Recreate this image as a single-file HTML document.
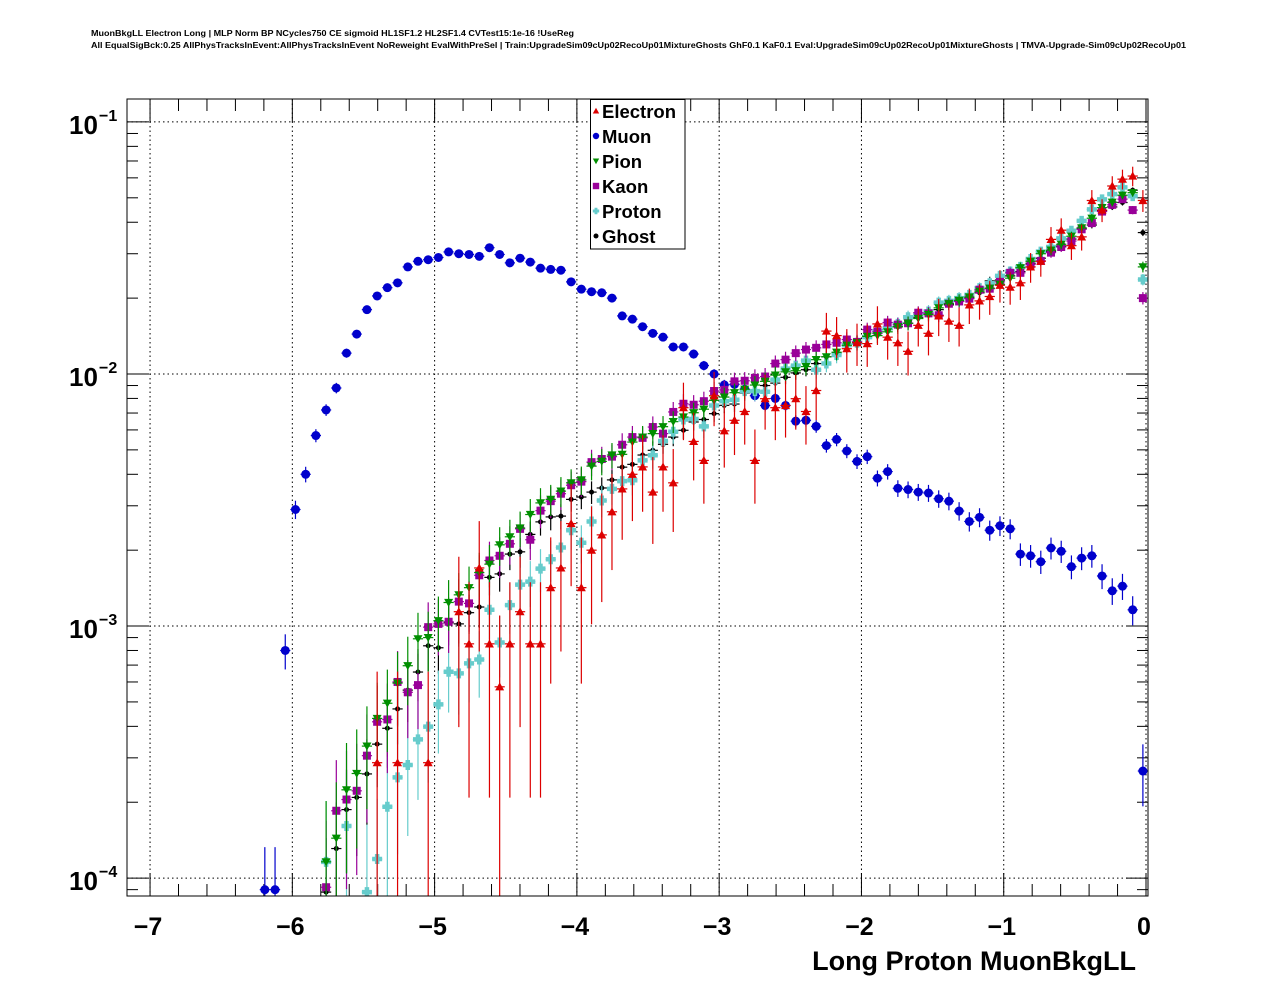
<!DOCTYPE html>
<html><head><meta charset="utf-8">
<style>
html,body{margin:0;padding:0;background:#fff;}
svg{display:block;font-family:"Liberation Sans",Arial,sans-serif;}
</style></head>
<body>
<svg id="chart" width="1276" height="996" viewBox="0 0 1276 996" xmlns="http://www.w3.org/2000/svg">
<rect x="0" y="0" width="1276" height="996" fill="#fff"/>
<text x="91" y="36" font-size="8.6" font-weight="bold" textLength="483" lengthAdjust="spacingAndGlyphs">MuonBkgLL Electron Long | MLP Norm BP NCycles750 CE sigmoid HL1SF1.2 HL2SF1.4 CVTest15:1e-16 !UseReg</text>
<text x="91" y="48" font-size="8.6" font-weight="bold" textLength="1095" lengthAdjust="spacingAndGlyphs">All EqualSigBck:0.25 AllPhysTracksInEvent:AllPhysTracksInEvent NoReweight EvalWithPreSel | Train:UpgradeSim09cUp02RecoUp01MixtureGhosts GhF0.1 KaF0.1 Eval:UpgradeSim09cUp02RecoUp01MixtureGhosts | TMVA-Upgrade-Sim09cUp02RecoUp01</text>
<defs><clipPath id="plotclip"><rect x="127" y="99" width="1021" height="797"/></clipPath></defs>
<g id="grid"></g>
<g id="axes"></g>
<g id="series" clip-path="url(#plotclip)"></g>
<rect x="127" y="99" width="1021" height="797" fill="none" stroke="#000" stroke-width="1"/>
<g id="legend"></g>
<text x="1136" y="970" font-size="27" font-weight="bold" text-anchor="end">Long Proton MuonBkgLL</text>
</svg>
<script>
const NBINS = 100;
const XMIN = -7.162, XMAX = 0.014;
const YLOGMIN = -4.071, YLOGMAX = -0.909;
const xTickValues = [-7, -6, -5, -4, -3, -2, -1, 0];
const xTickLabels = ["\u22127", "\u22126", "\u22125", "\u22124", "\u22123", "\u22122", "\u22121", "0"];
const yDecades = [-4, -3, -2, -1];
const yTickLabels = ["\u22124", "\u22123", "\u22122", "\u22121"];
const seriesNames = ["Electron", "Muon", "Pion", "Kaon", "Proton", "Ghost"];

const muonStart = 13;
const muon = [9.0e-5,9.0e-5,8.0e-4,2.9e-3,4.0e-3,5.7e-3,7.2e-3,8.8e-3,1.21e-2,1.44e-2,1.8e-2,2.04e-2,2.2e-2,2.3e-2,2.66e-2,2.8e-2,2.84e-2,2.9e-2,3.05e-2,3.0e-2,2.98e-2,2.93e-2,3.17e-2,2.98e-2,2.76e-2,2.88e-2,2.78e-2,2.63e-2,2.6e-2,2.58e-2,2.32e-2,2.17e-2,2.12e-2,2.1e-2,2.0e-2,1.7e-2,1.65e-2,1.54e-2,1.45e-2,1.4e-2,1.28e-2,1.28e-2,1.2e-2,1.08e-2,1.0e-2,9.05e-3,9.1e-3,8.7e-3,8.2e-3,7.5e-3,8.0e-3,7.5e-3,6.5e-3,6.55e-3,6.2e-3,5.2e-3,5.5e-3,4.95e-3,4.5e-3,4.7e-3,3.86e-3,4.1e-3,3.52e-3,3.48e-3,3.4e-3,3.37e-3,3.2e-3,3.13e-3,2.86e-3,2.6e-3,2.7e-3,2.4e-3,2.5e-3,2.43e-3,1.93e-3,1.9e-3,1.8e-3,2.04e-3,1.98e-3,1.72e-3,1.86e-3,1.9e-3,1.58e-3,1.38e-3,1.44e-3,1.16e-3,2.66e-4];

const kaonStart = 19;
const kaon = [9.2e-5,1.85e-4,2.05e-4,2.22e-4,3.06e-4,4.17e-4,4.26e-4,6.0e-4,5.46e-4,5.83e-4,9.9e-4,1.02e-3,1.04e-3,1.25e-3,1.23e-3,1.59e-3,1.82e-3,1.9e-3,2.12e-3,2.43e-3,2.2e-3,2.87e-3,3.13e-3,3.35e-3,3.62e-3,3.74e-3,4.47e-3,4.6e-3,4.7e-3,5.24e-3,5.62e-3,5.58e-3,6.16e-3,5.8e-3,7.07e-3,7.62e-3,7.55e-3,7.8e-3,8.56e-3,8.65e-3,9.35e-3,9.4e-3,9.65e-3,9.77e-3,1.1e-2,1.14e-2,1.21e-2,1.25e-2,1.27e-2,1.31e-2,1.33e-2,1.37e-2,1.34e-2,1.5e-2,1.47e-2,1.6e-2,1.57e-2,1.59e-2,1.75e-2,1.74e-2,1.71e-2,1.9e-2,1.94e-2,1.99e-2,2.16e-2,2.18e-2,2.32e-2,2.52e-2,2.52e-2,2.72e-2,2.81e-2,3.03e-2,3.19e-2,3.37e-2,3.75e-2,3.97e-2,4.41e-2,4.69e-2,4.94e-2,4.47e-2,2.0e-2];

const pionStart = 19;
const pion = [1.16e-4,1.44e-4,2.24e-4,2.6e-4,3.34e-4,4.3e-4,4.94e-4,5.94e-4,6.96e-4,8.9e-4,9.0e-4,1.05e-3,1.24e-3,1.33e-3,1.42e-3,1.63e-3,1.76e-3,2.1e-3,2.26e-3,2.45e-3,2.77e-3,3.08e-3,3.18e-3,3.43e-3,3.7e-3,3.8e-3,4.31e-3,4.5e-3,4.77e-3,4.8e-3,5.37e-3,5.62e-3,5.8e-3,6.18e-3,6.47e-3,6.75e-3,7.02e-3,7.25e-3,7.86e-3,8.1e-3,8.43e-3,8.7e-3,9.04e-3,9.35e-3,9.9e-3,1.02e-2,1.03e-2,1.07e-2,1.14e-2,1.17e-2,1.22e-2,1.3e-2,1.33e-2,1.41e-2,1.42e-2,1.47e-2,1.54e-2,1.59e-2,1.66e-2,1.72e-2,1.83e-2,1.9e-2,1.96e-2,2.02e-2,2.13e-2,2.19e-2,2.27e-2,2.4e-2,2.64e-2,2.8e-2,3.0e-2,3.1e-2,3.27e-2,3.52e-2,3.8e-2,4.15e-2,4.57e-2,4.8e-2,5.12e-2,5.24e-2,2.66e-2];

const ghostStart = 19;
const ghost = [8.8e-5,1.31e-4,1.87e-4,2.09e-4,2.59e-4,3.4e-4,3.93e-4,4.69e-4,5.57e-4,6.57e-4,8.35e-4,8.2e-4,1.03e-3,1.02e-3,1.13e-3,1.19e-3,1.56e-3,1.61e-3,1.93e-3,1.97e-3,2.31e-3,2.59e-3,2.71e-3,2.73e-3,3.18e-3,3.25e-3,3.4e-3,3.53e-3,3.8e-3,4.27e-3,4.38e-3,4.77e-3,4.98e-3,5.26e-3,5.62e-3,5.98e-3,6.45e-3,6.6e-3,6.96e-3,7.51e-3,7.6e-3,8.4e-3,8.6e-3,9.0e-3,9.2e-3,9.7e-3,1.01e-2,1.04e-2,1.1e-2,1.17e-2,1.21e-2,1.3e-2,1.35e-2,1.42e-2,1.45e-2,1.5e-2,1.54e-2,1.59e-2,1.68e-2,1.75e-2,1.8e-2,1.88e-2,1.94e-2,2.0e-2,2.1e-2,2.34e-2,2.36e-2,2.45e-2,2.55e-2,2.75e-2,2.88e-2,3.07e-2,3.22e-2,3.43e-2,3.78e-2,3.9e-2,4.45e-2,4.6e-2,4.79e-2,5.36e-2,3.64e-2];

const protonStart = 19;
const proton = [1.16e-4,null,1.61e-4,null,8.8e-5,1.19e-4,1.92e-4,2.51e-4,2.81e-4,3.55e-4,3.99e-4,4.89e-4,6.59e-4,6.49e-4,7.11e-4,7.37e-4,1.16e-3,8.6e-4,1.21e-3,1.46e-3,1.5e-3,1.69e-3,1.84e-3,2.05e-3,2.4e-3,2.14e-3,2.6e-3,3.15e-3,3.5e-3,3.76e-3,3.79e-3,4.54e-3,4.76e-3,5.42e-3,5.9e-3,6.6e-3,6.63e-3,6.2e-3,7.5e-3,7.8e-3,7.9e-3,8.55e-3,8.55e-3,8.5e-3,9.5e-3,1.05e-2,1.08e-2,1.13e-2,1.04e-2,1.1e-2,1.19e-2,1.3e-2,1.33e-2,1.4e-2,1.48e-2,1.52e-2,1.58e-2,1.68e-2,1.72e-2,1.77e-2,1.92e-2,1.95e-2,2.0e-2,2.06e-2,2.19e-2,2.29e-2,2.45e-2,2.55e-2,2.66e-2,2.86e-2,3.06e-2,3.19e-2,3.45e-2,3.7e-2,4.05e-2,4.5e-2,4.93e-2,5.17e-2,5.5e-2,5.08e-2,2.37e-2];

const electronStart = 24;
const electron = [2.87e-4,null,2.87e-4,null,null,2.87e-4,null,null,1.14e-3,8.5e-4,1.7e-3,8.5e-4,5.74e-4,8.5e-4,1.14e-3,8.5e-4,8.5e-4,1.42e-3,1.7e-3,2.55e-3,1.42e-3,2.0e-3,2.3e-3,2.84e-3,3.5e-3,4.0e-3,4.28e-3,3.4e-3,4.28e-3,3.7e-3,7.35e-3,5.4e-3,4.54e-3,8.2e-3,5.95e-3,6.55e-3,7.1e-3,4.54e-3,7.98e-3,7.35e-3,7.5e-3,7.98e-3,7.1e-3,8.6e-3,1.48e-2,1.42e-2,1.26e-2,1.33e-2,1.32e-2,1.58e-2,1.4e-2,1.33e-2,1.23e-2,1.56e-2,1.45e-2,1.7e-2,1.62e-2,1.56e-2,1.88e-2,1.95e-2,2.03e-2,2.25e-2,2.21e-2,2.3e-2,2.66e-2,2.8e-2,3.42e-2,3.72e-2,3.23e-2,3.5e-2,4.88e-2,4.47e-2,5.57e-2,5.93e-2,6.1e-2,4.88e-2];

const NS = "http://www.w3.org/2000/svg";
const L = 127, R = 1148, T = 99, B = 896;
function xPx(x){ return L + (x - XMIN) / (XMAX - XMIN) * (R - L); }
function yPxLog(lg){ return B - (lg - YLOGMIN) / (YLOGMAX - YLOGMIN) * (B - T); }
function yPx(v){ return v > 0 ? yPxLog(Math.log10(v)) : B + 50; }
function binCenter(i){ return XMIN + (i + 0.5) * (XMAX - XMIN) / NBINS; }
function mk(tag, attrs, parent){
  const e = document.createElementNS(NS, tag);
  for (const k in attrs) e.setAttribute(k, attrs[k]);
  parent.appendChild(e);
  return e;
}
const grid = document.getElementById('grid');
const axes = document.getElementById('axes');
const seriesG = document.getElementById('series');
const legend = document.getElementById('legend');

xTickValues.forEach(v => {
  const x = xPx(v);
  if (x > L + 1 && x < R - 1) {
    const g = mk('line', {x1:x, y1:T, x2:x, y2:B, stroke:'#000', 'stroke-width':1, 'stroke-dasharray':'1.5,3'}, grid);
    
    
  }
});
yDecades.forEach(d => {
  const y = yPxLog(d);
  const g = mk('line', {x1:L, y1:y, x2:R, y2:y, stroke:'#000', 'stroke-width':1, 'stroke-dasharray':'1.5,3'}, grid);
  
  
});

for (let k = -36; k <= 0; k++) {
  const v = k * 0.2;
  const x = xPx(v);
  if (x < L || x > R) continue;
  const major = (k % 5 === 0);
  const len = major ? 23 : 12;
  const t1 = mk('line', {x1:x, y1:B, x2:x, y2:B - len, stroke:'#000', 'stroke-width':1}, axes);
  
  
  const t2 = mk('line', {x1:x, y1:T, x2:x, y2:T + len, stroke:'#000', 'stroke-width':1}, axes);
  
  
}
xTickValues.forEach((v, i) => {
  const t = mk('text', {x:xPx(v) - 2, y:935, 'font-size':25, 'font-weight':'bold', 'text-anchor':'middle'}, axes);
  t.textContent = xTickLabels[i];
  
  
});

for (let d = -5; d <= -1; d++) {
  for (let m = 1; m <= 9; m++) {
    const lg = d + Math.log10(m);
    if (lg < YLOGMIN || lg > YLOGMAX) continue;
    const y = yPxLog(lg);
    const len = m === 1 ? 22 : 11;
    const a = mk('line', {x1:L, y1:y, x2:L + len, y2:y, stroke:'#000', 'stroke-width':1}, axes);
    
    
    const b = mk('line', {x1:R, y1:y, x2:R - len, y2:y, stroke:'#000', 'stroke-width':1}, axes);
    
    
  }
}
yDecades.forEach((d, i) => {
  const y = yPxLog(d);
  const t = mk('text', {x:69, y:y + 12, 'font-size':26, 'font-weight':'bold'}, axes);
  t.textContent = '10';
  
  
  const s = mk('text', {x:99, y:y - 1, 'font-size':16, 'font-weight':'bold'}, axes);
  s.textContent = yTickLabels[i];
  
  
});

const styles = {
  Electron:{color:'#dd0000', k:0.022, shape:'tri-up', size:4.5},
  Muon:{color:'#0000cc', k:0.0045, shape:'circle', size:4.5},
  Pion:{color:'#008f00', k:0.008, shape:'tri-down', size:4.5},
  Kaon:{color:'#990099', k:0.008, shape:'square', size:4},
  Proton:{color:'#66cccc', k:0.008, shape:'cross', size:5},
  Ghost:{color:'#000000', k:0.006, shape:'dot', size:2.5}
};
function marker(parent, shape, cx, cy, s, color){
  let e;
  if (shape === 'circle') e = mk('circle', {cx:cx, cy:cy, r:s, fill:color}, parent);
  else if (shape === 'dot') e = mk('circle', {cx:cx, cy:cy, r:s, fill:color}, parent);
  else if (shape === 'square') e = mk('rect', {x:cx - s, y:cy - s, width:2*s, height:2*s, fill:color}, parent);
  else if (shape === 'tri-up') e = mk('polygon', {points:`${cx},${cy-s} ${cx-s},${cy+s*0.8} ${cx+s},${cy+s*0.8}`, fill:color}, parent);
  else if (shape === 'tri-down') e = mk('polygon', {points:`${cx},${cy+s} ${cx-s},${cy-s*0.8} ${cx+s},${cy-s*0.8}`, fill:color}, parent);
  else if (shape === 'cross') {
    const w = s * 0.45;
    e = mk('path', {d:`M${cx-w},${cy-s}h${2*w}v${s-w}h${s-w}v${2*w}h${-(s-w)}v${s-w}h${-2*w}v${-(s-w)}h${-(s-w)}v${-2*w}h${s-w}z`, fill:color}, parent);
  }
  return e;
}
function drawSeries(name, start, values){
  const st = styles[name];
  const g = mk('g', {}, seriesG);
  
  
  const halfW = (R - L) / NBINS / 2;
  values.forEach((v, j) => {
    if (v === null || v <= 0) return;
    const i = start + j;
    const cx = xPx(binCenter(i));
    const cy = yPx(v);
    const err = st.k * Math.sqrt(v);
    const eb = mk('line', {x1:cx, y1:yPx(v + err), x2:cx, y2:Math.min(yPx(v - err), B), stroke:st.color, 'stroke-width':1.2}, g);
    
    
    const hb = mk('line', {x1:cx - halfW, y1:cy, x2:cx + halfW, y2:cy, stroke:st.color, 'stroke-width':1.2}, g);
    
    
    const m = marker(g, st.shape, cx, cy, st.size, st.color);
    
    
  });
}
drawSeries('Muon', muonStart, muon);
drawSeries('Ghost', ghostStart, ghost);
drawSeries('Proton', protonStart, proton);
drawSeries('Kaon', kaonStart, kaon);
drawSeries('Pion', pionStart, pion);
drawSeries('Electron', electronStart, electron);

const lb = mk('rect', {x:590.5, y:99.5, width:94.5, height:149.5, fill:'#fff', stroke:'#000', 'stroke-width':1}, legend);


seriesNames.forEach((n, i) => {
  const y = 111 + i * 25;
  const st = styles[n];
  const m = marker(legend, st.shape, 596, y, Math.min(st.size, 3.2), st.color);
  
  
  const t = mk('text', {x:602, y:y + 7, 'font-size':18.5, 'font-weight':'bold'}, legend);
  t.textContent = n;
  
  
});
</script>
</body></html>
